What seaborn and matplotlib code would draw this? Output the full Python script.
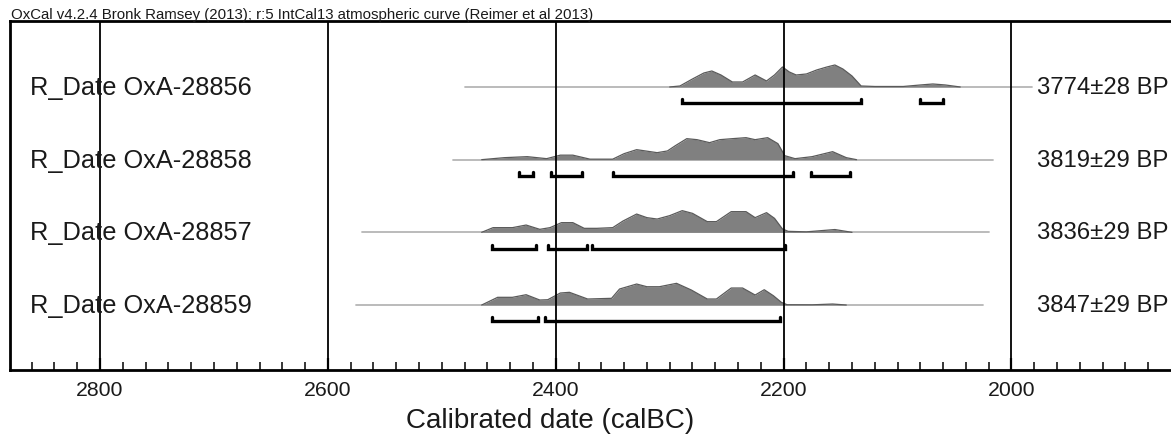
import numpy as np
import matplotlib
matplotlib.use("Agg")
import matplotlib.pyplot as plt
import matplotlib.transforms as mtransforms
import seaborn as sns

# ---------------- data ----------------
sample_names = ["R_Date OxA-28856", "R_Date OxA-28858", "R_Date OxA-28857", "R_Date OxA-28859"]
bp_labels = ["3774\u00b128 BP", "3819\u00b129 BP", "3836\u00b129 BP", "3847\u00b129 BP"]

# extent of the light base line (calBC)
line_start = [2480, 2490, 2570, 2575]
line_end = [1982, 2016, 2020, 2025]

# probability distributions (relative heights)
years_28856 = [2300, 2291, 2280, 2270, 2263, 2255, 2245, 2236, 2225, 2215, 2208, 2201, 2195, 2189,
               2180, 2171, 2162, 2155, 2148, 2140, 2132, 2120, 2095, 2080, 2069, 2058, 2045]
prob_28856 = [0, 1, 8, 14, 16, 12, 5, 5, 12, 6, 12, 20, 15, 12,
              13, 17, 20, 22, 18, 11, 1, 0.5, 0.5, 2, 3, 2, 0]

years_28858 = [2465, 2445, 2425, 2408, 2396, 2385, 2370, 2350, 2340, 2329, 2311, 2302, 2295, 2285,
               2276, 2265, 2256, 2245, 2233, 2225, 2214, 2205, 2199, 2190, 2175, 2157, 2145, 2136]
prob_28858 = [0, 2, 3, 1, 4.5, 4.5, 0.5, 0.5, 6, 10, 7, 8.7, 14, 21,
              20, 17, 20, 21, 22, 20, 22, 16, 4, 1, 3, 8, 2, 0]

years_28857 = [2465, 2455, 2438, 2426, 2414, 2405, 2395, 2385, 2375, 2364, 2350, 2341, 2329, 2320,
               2311, 2300, 2289, 2280, 2267, 2259, 2246, 2233, 2225, 2215, 2208, 2201, 2196, 2180,
               2155, 2140]
prob_28857 = [0, 4.7, 4.7, 7.3, 3, 4.7, 9.7, 9.7, 4, 4, 4.7, 11.3, 18.3, 14.7,
              13.3, 16.7, 21.7, 19, 10.7, 10.7, 20.7, 20.7, 14.7, 19.7, 14, 3.3, 1, 0.5,
              2.8, 0]

years_28859 = [2465, 2451, 2438, 2426, 2414, 2407, 2396, 2388, 2372, 2351, 2344, 2329, 2320, 2309,
               2294, 2281, 2267, 2259, 2246, 2236, 2225, 2217, 2209, 2202, 2197, 2175, 2157, 2145]
prob_28859 = [0, 7.7, 7.7, 10.3, 5, 5.3, 12, 12.7, 6, 6.7, 16, 21, 18.3, 18.3,
              21.7, 15, 6, 6, 17, 17, 10, 15.3, 9.3, 2.7, 0.3, 0.2, 1, 0]

all_years = [years_28856, years_28858, years_28857, years_28859]
all_probs = [prob_28856, prob_28858, prob_28857, prob_28859]

# 95.4% ranges (from, to) calBC
ranges_28856 = [(2289, 2132), (2080, 2060)]
ranges_28858 = [(2432, 2420), (2404, 2377), (2350, 2192), (2176, 2142)]
ranges_28857 = [(2456, 2417), (2407, 2373), (2368, 2199)]
ranges_28859 = [(2456, 2416), (2409, 2203)]
all_ranges = [ranges_28856, ranges_28858, ranges_28857, ranges_28859]

major_ticks = [2800, 2600, 2400, 2200, 2000]
title_text = "OxCal v4.2.4 Bronk Ramsey (2013); r:5 IntCal13 atmospheric curve (Reimer et al 2013)"
xlabel_text = "Calibrated date (calBC)"

# ---------------- style ----------------
sns.set_theme(style="white")
plt.rcParams["font.family"] = ["Liberation Sans", "DejaVu Sans"]

W, H = 1171, 439
fig = plt.figure(figsize=(W / 100, H / 100), dpi=100)
ax = fig.add_axes([10 / W, 68 / H, (W - 10) / W, 349 / H])

row_px = 72.7        # pixels between rows
prob_scale = 1 / row_px
bracket_off = 0.225
bracket_tick = 0.055

for i in range(4):
    yb = float(i)
    sns.lineplot(x=[line_start[i], line_end[i]], y=[yb, yb], ax=ax, color="#b5b5b5",
                 lw=1.3, estimator=None, sort=False, zorder=2)
    yrs = np.array(all_years[i], dtype=float)
    pr = np.array(all_probs[i], dtype=float)
    ax.fill_between(yrs, yb, yb - pr * prob_scale, color="#808080", lw=0, zorder=3)
    sns.lineplot(x=yrs, y=yb - pr * prob_scale, ax=ax, color="#5a5a5a", lw=0.9,
                 estimator=None, sort=False, zorder=4)
    for (a, b) in all_ranges[i]:
        yy = yb + bracket_off
        ax.plot([a, a, b, b], [yy - bracket_tick, yy, yy, yy - bracket_tick],
                color="black", lw=2.4, solid_joinstyle="miter", zorder=5)

for t in major_ticks:
    ax.axvline(t, color="black", lw=1.3, zorder=6)

ax.set_xlim(2879, 1860)
ax.set_ylim(3 + 65 / row_px, -66 / row_px)

ax.set_xticks(major_ticks)
ax.set_xticklabels([str(t) for t in major_ticks])
ax.set_xticks(np.arange(1880, 2880, 20), minor=True)
ax.set_yticks([])
ax.tick_params(axis="x", which="major", direction="in", length=9, width=1.6,
               labelsize=15.3, pad=7, colors="black", labelcolor="#1a1a1a", bottom=True)
ax.tick_params(axis="x", which="minor", direction="in", length=6, width=1.1,
               colors="black", bottom=True)
ax.set_xlabel(xlabel_text, fontsize=20, color="#1a1a1a")
ax.xaxis.set_label_coords((550 - 10) / (W - 10), -50 / 349)
ax.xaxis.label.set_va("center")

for side in ["left", "top", "bottom"]:
    ax.spines[side].set_visible(True)
    ax.spines[side].set_color("black")
    ax.spines[side].set_linewidth(2.0)
ax.spines["right"].set_visible(False)

trans = mtransforms.blended_transform_factory(ax.transAxes, ax.transData)
for i in range(4):
    ax.text((30 - 10) / (W - 10), i, sample_names[i], transform=trans, fontsize=18.3,
            va="center", ha="left", color="#1a1a1a", zorder=7)
    ax.text((1037 - 10) / (W - 10), i, bp_labels[i], transform=trans, fontsize=17.2,
            va="center", ha="left", color="#1a1a1a", zorder=7,
            bbox=dict(facecolor="white", edgecolor="none", pad=0.5))

fig.text(11 / W, (H - 22) / H, title_text, fontsize=10.8, color="#1a1a1a",
         ha="left", va="bottom")

fig.savefig("out.png", dpi=100, facecolor="white")
